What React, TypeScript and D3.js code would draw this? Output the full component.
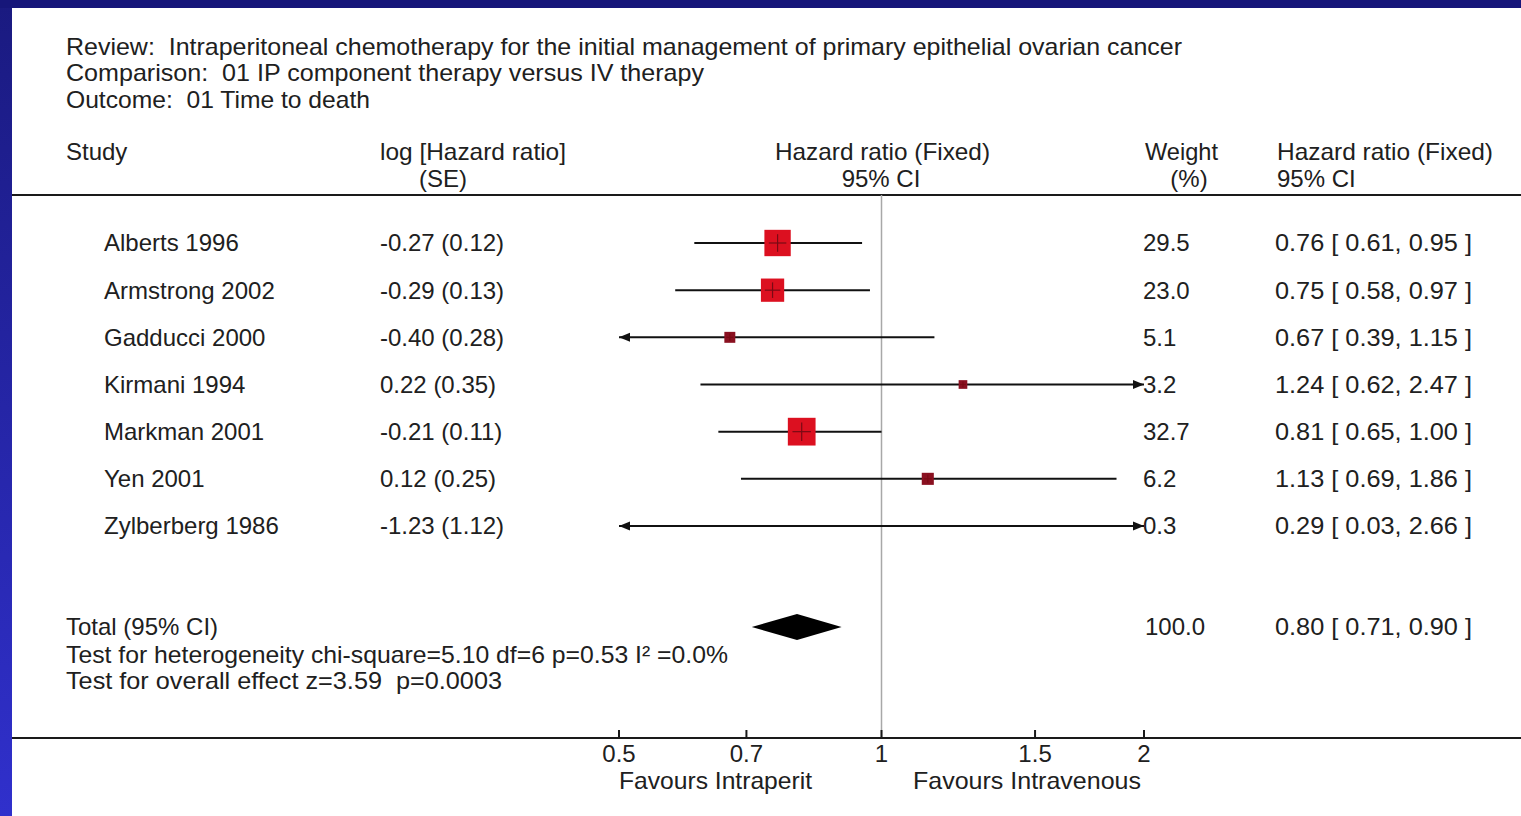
import React from "react";
import * as d3 from "d3";

// Study-level data (hazard ratios on the log scale, fixed-effect model)
const studies = ["Alberts 1996", "Armstrong 2002", "Gadducci 2000", "Kirmani 1994", "Markman 2001", "Yen 2001", "Zylberberg 1986"];
const logHrSe = ["-0.27 (0.12)", "-0.29 (0.13)", "-0.40 (0.28)", "0.22 (0.35)", "-0.21 (0.11)", "0.12 (0.25)", "-1.23 (1.12)"];
const weights = [29.5, 23.0, 5.1, 3.2, 32.7, 6.2, 0.3];
const hr = [0.76, 0.75, 0.67, 1.24, 0.81, 1.13, 0.29];
const lower = [0.61, 0.58, 0.39, 0.62, 0.65, 0.69, 0.03];
const upper = [0.95, 0.97, 1.15, 2.47, 1.0, 1.86, 2.66];

// Pooled estimate
const totalHr = 0.8;
const totalLower = 0.71;
const totalUpper = 0.9;
const totalWeight = 100.0;

const axisTicks = [0.5, 0.7, 1, 1.5, 2];
const axisTickLabels = ["0.5", "0.7", "1", "1.5", "2"];

const W = 1521;
const H = 816;
const FONT = "'Liberation Sans', Arial, sans-serif";
const INK = "#202020";

const fmt2 = (v: number) => v.toFixed(2);
const ciText = (h: number, l: number, u: number) => `${fmt2(h)} [ ${fmt2(l)}, ${fmt2(u)} ]`;

export default function App() {
  const x = d3.scaleLog().domain([0.5, 2]).range([619, 1144]);
  const y = d3.scaleLinear().domain([0, studies.length - 1]).range([243, 526]);
  const [xMin, xMax] = x.domain();
  const boxScale = 4.85;

  const topRule = 195;
  const axisY = 738;
  const totalY = 627;

  const txt = (props: any, s: string) => (
    <text fontFamily={FONT} fontSize={24} fill={INK} dy="0.35em" style={{ whiteSpace: "pre" }} {...props}>
      {s}
    </text>
  );

  const arrow = (xTip: number, yy: number, dir: number, key: string) => (
    <path key={key} d={`M${xTip},${yy} L${xTip - dir * 11},${yy - 4.5} L${xTip - dir * 11},${yy + 4.5} Z`} fill="#111" />
  );

  return (
    <svg width={W} height={H} style={{ position: "fixed", left: 0, top: 0, display: "block" }}>
      <defs>
        <linearGradient id="frame" x1="0" y1="0" x2="0" y2="1">
          <stop offset="0" stopColor="#1a1a80" />
          <stop offset="1" stopColor="#3030cc" />
        </linearGradient>
      </defs>
      <rect x={0} y={0} width={W} height={H} fill="url(#frame)" />
      <rect x={0} y={0} width={W} height={8} fill="#16167a" />
      <rect x={12} y={8} width={W - 12} height={H - 8} fill="#ffffff" />

      {/* Title block */}
      {txt({ x: 66, y: 47, textLength: 1116, lengthAdjust: "spacingAndGlyphs" }, "Review:  Intraperitoneal chemotherapy for the initial management of primary epithelial ovarian cancer")}
      {txt({ x: 66, y: 73, textLength: 638, lengthAdjust: "spacingAndGlyphs" }, "Comparison:  01 IP component therapy versus IV therapy")}
      {txt({ x: 66, y: 100, textLength: 304, lengthAdjust: "spacingAndGlyphs" }, "Outcome:  01 Time to death")}

      {/* Column headers */}
      {txt({ x: 66, y: 152 }, "Study")}
      {txt({ x: 380, y: 152, textLength: 186, lengthAdjust: "spacingAndGlyphs" }, "log [Hazard ratio]")}
      {txt({ x: 443, y: 179, textAnchor: "middle" }, "(SE)")}
      {txt({ x: 775, y: 152, textLength: 215, lengthAdjust: "spacingAndGlyphs" }, "Hazard ratio (Fixed)")}
      {txt({ x: 881, y: 179, textAnchor: "middle" }, "95% CI")}
      {txt({ x: 1145, y: 152, textLength: 73, lengthAdjust: "spacingAndGlyphs" }, "Weight")}
      {txt({ x: 1189, y: 179, textAnchor: "middle" }, "(%)")}
      {txt({ x: 1277, y: 152, textLength: 216, lengthAdjust: "spacingAndGlyphs" }, "Hazard ratio (Fixed)")}
      {txt({ x: 1277, y: 179 }, "95% CI")}

      <line x1={12} x2={W} y1={topRule} y2={topRule} stroke="#1a1a1a" strokeWidth={2} />

      {/* Line of no effect */}
      <line x1={x(1)} x2={x(1)} y1={topRule} y2={axisY} stroke="#a8a8a8" strokeWidth={1.5} />

      {/* Study rows */}
      {studies.map((name, i) => {
        const yy = y(i);
        const lo = Math.max(lower[i], xMin);
        const hi = Math.min(upper[i], xMax);
        const side = boxScale * Math.sqrt(weights[i]);
        const inRange = hr[i] >= xMin && hr[i] <= xMax;
        const cx = x(hr[i]);
        const s = Math.max(side, 7);
        return (
          <g key={name}>
            {txt({ x: 104, y: yy }, name)}
            {txt({ x: 380, y: yy }, logHrSe[i])}
            {txt({ x: 1143, y: yy }, weights[i].toFixed(1))}
            {txt({ x: 1275, y: yy, textLength: 197, lengthAdjust: "spacingAndGlyphs" }, ciText(hr[i], lower[i], upper[i]))}
            <line x1={x(lo)} x2={x(hi)} y1={yy} y2={yy} stroke="#111" strokeWidth={2} />
            {lower[i] < xMin && arrow(x(xMin), yy, -1, "l")}
            {upper[i] > xMax && arrow(x(xMax), yy, 1, "r")}
            {inRange && (
              <g>
                <rect x={cx - s / 2} y={yy - s / 2} width={s} height={s} fill={side < 13 ? "#8a1020" : "#dc1020"} />
                <line x1={cx - side / 3} x2={cx + side / 3} y1={yy} y2={yy} stroke="#7a0a14" strokeWidth={1.2} />
                <line x1={cx} x2={cx} y1={yy - side / 3} y2={yy + side / 3} stroke="#7a0a14" strokeWidth={1.2} />
              </g>
            )}
          </g>
        );
      })}

      {/* Pooled result */}
      {txt({ x: 66, y: totalY }, "Total (95% CI)")}
      {txt({ x: 66, y: 655, textLength: 662, lengthAdjust: "spacingAndGlyphs" }, "Test for heterogeneity chi-square=5.10 df=6 p=0.53 I\u00b2 =0.0%")}
      {txt({ x: 66, y: 681, textLength: 436, lengthAdjust: "spacingAndGlyphs" }, "Test for overall effect z=3.59  p=0.0003")}
      {txt({ x: 1145, y: totalY }, totalWeight.toFixed(1))}
      {txt({ x: 1275, y: totalY, textLength: 197, lengthAdjust: "spacingAndGlyphs" }, ciText(totalHr, totalLower, totalUpper))}
      <path
        d={`M${x(totalLower)},${totalY} L${x(totalHr)},${totalY - 13} L${x(totalUpper)},${totalY} L${x(totalHr)},${totalY + 13} Z`}
        fill="#000"
      />

      {/* Axis */}
      <line x1={12} x2={W} y1={axisY} y2={axisY} stroke="#1a1a1a" strokeWidth={2} />
      {axisTicks.map((t, i) => (
        <g key={t}>
          <line x1={x(t)} x2={x(t)} y1={axisY - 8} y2={axisY} stroke="#1a1a1a" strokeWidth={2} />
          {txt({ x: x(t), y: 754, textAnchor: "middle" }, axisTickLabels[i])}
        </g>
      ))}
      {txt({ x: 619, y: 781, textLength: 193, lengthAdjust: "spacingAndGlyphs" }, "Favours Intraperit")}
      {txt({ x: 913, y: 781, textLength: 228, lengthAdjust: "spacingAndGlyphs" }, "Favours Intravenous")}
    </svg>
  );
}
